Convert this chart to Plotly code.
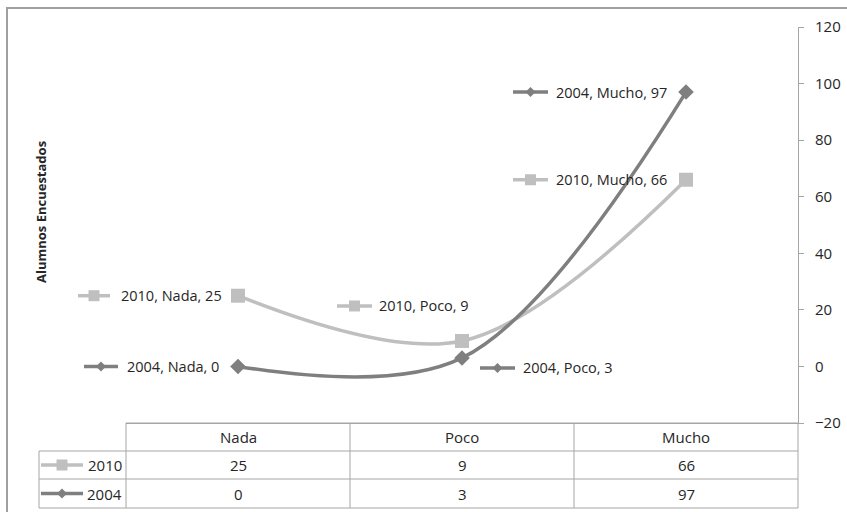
import plotly.graph_objects as go

# Survey responses per category
categories = ["Nada", "Poco", "Mucho"]
series_names = ["2010", "2004"]
values_2010 = [25, 9, 66]
values_2004 = [0, 3, 97]
y_tick_values = [-20, 0, 20, 40, 60, 80, 100, 120]

W, H = 847, 512
PL, PR, PT, PB = 126, 798, 27, 423  # plot area in pixels

FONT = "Open Sans"
TEXT = "#262626"
GRID = "#A6A6A6"

styles = {
    "2010": dict(color="#BFBFBF", symbol="square", size=14, key_size=11),
    "2004": dict(color="#7F7F7F", symbol="diamond", size=12, key_size=10),
}
series = {"2010": values_2010, "2004": values_2004}

# Data label placement (pixel offsets from the point): key start, key end, text start, vertical shift
label_pos = {
    ("2010", 0): (-160, -128, -119, 0),
    ("2004", 0): (-154, -120, -113, 0),
    ("2010", 1): (-125, -90, -85, 35),
    ("2004", 1): (18, 53, 59, -10),
    ("2010", 2): (-173, -138, -132, 0),
    ("2004", 2): (-173, -138, -132, 0),
}


def fx(px):
    return (px - PL) / (PR - PL)


def fy(py):
    return (PB - py) / (PB - PT)


def cat_frac(i):
    # centre of category i across the plot width
    return (i + 0.5) / len(categories)


def marker_pts(symbol, cx, cy, s):
    h = s / 2
    if symbol == "square":
        return [(cx - h, cy - h), (cx + h, cy - h), (cx + h, cy + h), (cx - h, cy + h)]
    return [(cx, cy - h), (cx + h, cy), (cx, cy + h), (cx - h, cy)]


fig = go.Figure()
shapes = []
annotations = []

for name in series_names:
    st = styles[name]
    fig.add_trace(go.Scatter(
        x=categories, y=series[name], name=name,
        mode="lines+markers",
        line=dict(color=st["color"], width=3.5, shape="spline", smoothing=1.0),
        marker=dict(symbol=st["symbol"], size=st["size"], color=st["color"],
                    line=dict(width=0)),
        showlegend=False, hoverinfo="skip",
    ))

# Data labels with legend keys next to each point
for name in series_names:
    st = styles[name]
    for i, cat in enumerate(categories):
        v = series[name][i]
        k0, k1, t0, dy = label_pos[(name, i)]
        shapes.append(dict(type="line", xref="paper", yref="y", xsizemode="pixel",
                           ysizemode="pixel", xanchor=cat_frac(i), yanchor=v,
                           x0=k0, x1=k1, y0=dy, y1=dy,
                           line=dict(color=st["color"], width=3.5)))
        kc = (k0 + k1) / 2
        # pixel paths: y grows upward relative to anchor
        pts = marker_pts(st["symbol"], kc, dy, st["key_size"])
        path = "M" + " L".join(f"{px},{py}" for px, py in pts) + " Z"
        shapes.append(dict(type="path", xref="paper", yref="y", xsizemode="pixel",
                           ysizemode="pixel", xanchor=cat_frac(i), yanchor=v, path=path,
                           fillcolor=st["color"], line=dict(width=0)))
        annotations.append(dict(x=cat, y=v, xref="x", yref="y", xanchor="left",
                                yanchor="middle", xshift=t0, yshift=dy,
                                text=f"{name}, {cat}, {v}", showarrow=False,
                                font=dict(family=FONT, size=14.5, color=TEXT)))

# Data table beneath the plot
row_edges = [PB, 451, 479, 508]
col_edges = [PL + (PR - PL) * k / len(categories) for k in range(len(categories) + 1)]
TL = 39
for y in row_edges:
    x_start = PL if y == PB else TL
    shapes.append(dict(type="line", xref="paper", yref="paper",
                       x0=fx(x_start), x1=fx(PR), y0=fy(y), y1=fy(y),
                       line=dict(color=GRID, width=1)))
for x in col_edges:
    shapes.append(dict(type="line", xref="paper", yref="paper",
                       x0=fx(x), x1=fx(x), y0=fy(PB), y1=fy(row_edges[-1]),
                       line=dict(color=GRID, width=1)))
shapes.append(dict(type="line", xref="paper", yref="paper",
                   x0=fx(TL), x1=fx(TL), y0=fy(row_edges[1]), y1=fy(row_edges[-1]),
                   line=dict(color=GRID, width=1)))

cell_font = dict(family=FONT, size=15, color=TEXT)
for i, cat in enumerate(categories):
    annotations.append(dict(x=cat, y=fy((row_edges[0] + row_edges[1]) / 2),
                            xref="x", yref="paper", xanchor="center", yanchor="middle",
                            text=cat, showarrow=False, font=cell_font))
for r, name in enumerate(series_names):
    st = styles[name]
    yc = (row_edges[r + 1] + row_edges[r + 2]) / 2
    for i, cat in enumerate(categories):
        annotations.append(dict(x=cat, y=fy(yc), xref="x", yref="paper",
                                xanchor="center", yanchor="middle",
                                text=str(series[name][i]), showarrow=False,
                                font=cell_font))
    annotations.append(dict(x=fx(124), y=fy(yc), xref="paper", yref="paper",
                            xanchor="right", yanchor="middle", text=name,
                            showarrow=False, font=cell_font))
    shapes.append(dict(type="line", xref="paper", yref="paper",
                       x0=fx(41), x1=fx(83), y0=fy(yc), y1=fy(yc),
                       line=dict(color=st["color"], width=3.5)))
    pts = marker_pts(st["symbol"], 62, yc, st["key_size"])
    path = "M" + " L".join(f"{fx(px)},{fy(py)}" for px, py in pts) + " Z"
    shapes.append(dict(type="path", xref="paper", yref="paper", path=path,
                       fillcolor=st["color"], line=dict(width=0)))

# Axis title
annotations.append(dict(x=fx(41), y=fy(212), xref="paper", yref="paper",
                        xanchor="center", yanchor="middle",
                        text="<b>Alumnos Encuestados</b>", textangle=-90,
                        showarrow=False, font=dict(family=FONT, size=13, color=TEXT)))

# Chart border
shapes.append(dict(type="rect", xref="paper", yref="paper",
                   x0=fx(7), x1=fx(W + 20), y0=fy(8), y1=fy(H + 20),
                   line=dict(color="#A0A0A0", width=2), layer="below"))

fig.update_layout(
    width=W, height=H,
    margin=dict(l=PL, r=W - PR, t=PT, b=H - PB, pad=0, autoexpand=False),
    paper_bgcolor="white", plot_bgcolor="white",
    shapes=shapes, annotations=annotations,
    xaxis=dict(type="category", range=[-0.5, 2.5], showticklabels=False,
               showgrid=False, zeroline=False, showline=True, linecolor=GRID,
               linewidth=1, ticks="", automargin=False),
    yaxis=dict(side="right", range=[-20, 120], tickvals=y_tick_values,
               showgrid=False, zeroline=False, showline=True, linecolor=GRID,
               linewidth=1, ticks="outside", ticklen=5, tickcolor=GRID,
               ticklabelstandoff=8, automargin=False,
               tickfont=dict(family=FONT, size=15, color=TEXT)),
)

fig.write_html("out.html")
